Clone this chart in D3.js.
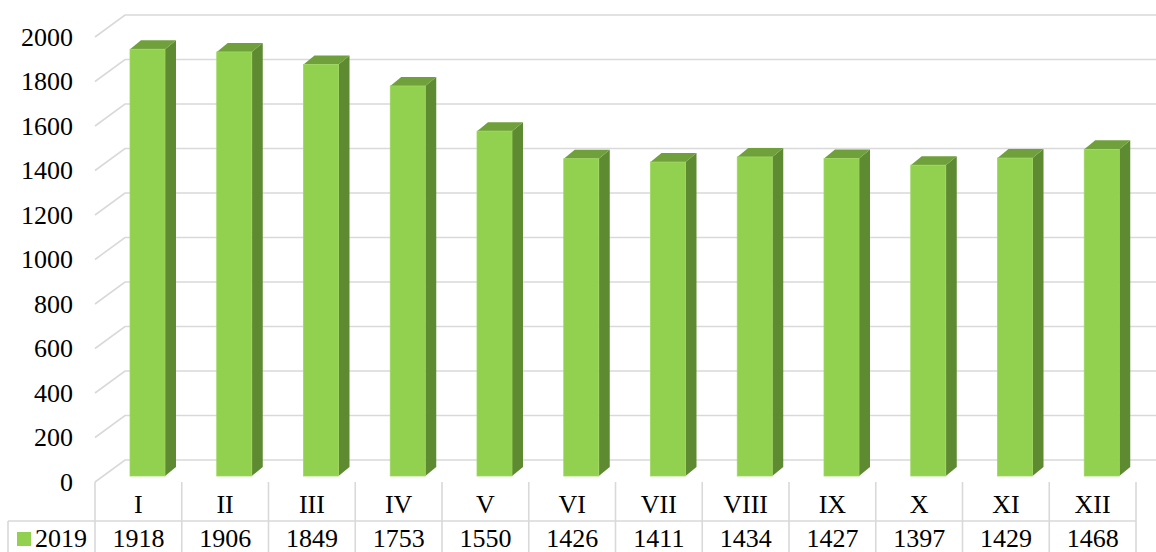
<!DOCTYPE html>
<html>
<head>
<meta charset="utf-8">
<script src="https://cdn.jsdelivr.net/npm/d3@7"></script>
<style>
  body { margin: 0; background: #fff; }
  svg { display: block; font-family: "Liberation Serif", "Times New Roman", serif; }
</style>
</head>
<body>
<svg width="1156" height="552"></svg>
<script>
// Chart data
const months = ["I", "II", "III", "IV", "V", "VI", "VII", "VIII", "IX", "X", "XI", "XII"];
const values2019 = [1918, 1906, 1849, 1753, 1550, 1426, 1411, 1434, 1427, 1397, 1429, 1468];
const seriesName = "2019";
const yTicks = [0, 200, 400, 600, 800, 1000, 1200, 1400, 1600, 1800, 2000];

const svg = d3.select("svg");
const width = 1156;
const fontSize = 26;

// 3D offsets (wall depth and bar depth)
const wallDx = 30, wallDy = -22;
const barDx = 11, barDy = -9;

const x = d3.scaleBand().domain(months).range([95, 1136]);
// scale for the front of the side wall
const yFront = d3.scaleLinear().domain([0, 2000]).range([482, 37]);
// scale for the bars' front faces
const yBar = d3.scaleLinear().domain([0, 2000]).range([476, 31]);

const grid = svg.append("g")
  .attr("stroke", "#d9d9d9")
  .attr("stroke-width", 1.6)
  .attr("fill", "none");

// side wall diagonals and back wall lines
grid.selectAll("path")
  .data(yTicks)
  .join("path")
  .attr("d", (d) => {
    const y0 = yFront(d);
    return `M95,${y0}L${95 + wallDx},${y0 + wallDy}L${width},${y0 + wallDy}`;
  });

// y tick labels
svg.append("g")
  .selectAll("text")
  .data(yTicks)
  .join("text")
  .attr("x", 73)
  .attr("y", (d) => yFront(d))
  .attr("dy", "0.34em")
  .attr("text-anchor", "end")
  .attr("font-size", fontSize)
  .attr("fill", "#000")
  .text((d) => d);

// bars
const barW = 35;
const bars = svg.append("g")
  .selectAll("g")
  .data(months.map((m, i) => ({ m, v: values2019[i] })))
  .join("g");

const bx = (d) => x(d.m) + 35;

// side face
bars.append("path")
  .attr("fill", "#5e8a31")
  .attr("d", (d) => {
    const x1 = bx(d) + barW, t = yBar(d.v), b = yBar(0);
    return `M${x1},${t}L${x1 + barDx},${t + barDy}L${x1 + barDx},${b + barDy}L${x1},${b}Z`;
  });

// top face
bars.append("path")
  .attr("fill", "#6fa03b")
  .attr("d", (d) => {
    const x0 = bx(d), t = yBar(d.v);
    return `M${x0},${t}L${x0 + barDx},${t + barDy}L${x0 + barW + barDx},${t + barDy}L${x0 + barW},${t}Z`;
  });

// front face
bars.append("rect")
  .attr("x", bx)
  .attr("y", (d) => yBar(d.v))
  .attr("width", barW)
  .attr("height", (d) => yBar(0) - yBar(d.v))
  .attr("fill", "#92d050")
  .attr("stroke", "#9ed85e")
  .attr("stroke-width", 0.8);

// data table
const table = svg.append("g")
  .attr("stroke", "#d9d9d9")
  .attr("stroke-width", 1.6);

const rowTop = 521;
table.append("line")
  .attr("x1", 8).attr("x2", 1136)
  .attr("y1", rowTop).attr("y2", rowTop);
table.append("line")
  .attr("x1", 8).attr("x2", 8)
  .attr("y1", rowTop).attr("y2", 552);
table.selectAll("line.col")
  .data(months.concat(["end"]))
  .join("line")
  .attr("class", "col")
  .attr("x1", (d, i) => 95 + i * x.bandwidth())
  .attr("x2", (d, i) => 95 + i * x.bandwidth())
  .attr("y1", 482)
  .attr("y2", 552);

// category labels
svg.append("g")
  .selectAll("text")
  .data(months)
  .join("text")
  .attr("x", (d) => x(d) + x.bandwidth() / 2)
  .attr("y", 513)
  .attr("text-anchor", "middle")
  .attr("font-size", fontSize)
  .text((d) => d);

// values row
svg.append("g")
  .selectAll("text")
  .data(values2019)
  .join("text")
  .attr("x", (d, i) => x(months[i]) + x.bandwidth() / 2)
  .attr("y", 547)
  .attr("text-anchor", "middle")
  .attr("font-size", fontSize)
  .text((d) => d);

// legend key
svg.append("rect")
  .attr("x", 17).attr("y", 532)
  .attr("width", 14).attr("height", 14)
  .attr("fill", "#92d050");
svg.append("text")
  .attr("x", 35).attr("y", 547)
  .attr("font-size", fontSize)
  .text(seriesName);
</script>
</body>
</html>
